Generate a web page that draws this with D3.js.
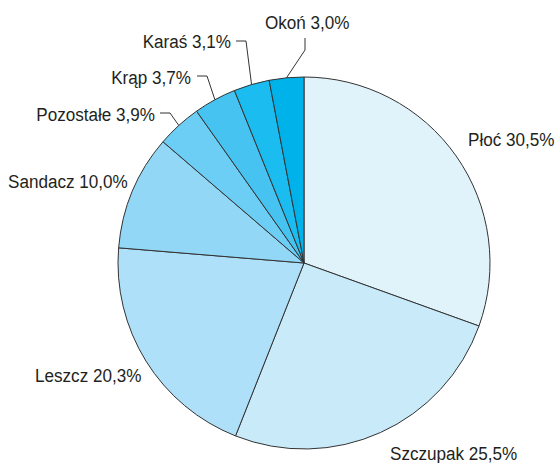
<!DOCTYPE html>
<html>
<head>
<meta charset="utf-8">
<script src="https://cdn.jsdelivr.net/npm/d3@7"></script>
<style>
body{margin:0;background:#fff;}
text{font-family:"Liberation Sans", Arial, sans-serif;font-size:19px;fill:#231f20;}
</style>
</head>
<body>
<div id="chart"></div>
<script>
var width=558, height=463;
var cx=304, cy=263, radius=186;

var names=["Płoć", "Szczupak", "Leszcz", "Sandacz", "Pozostałe", "Krąp", "Karaś", "Okoń"];
var shares=[30.5, 25.5, 20.3, 10.0, 3.9, 3.7, 3.1, 3.0];
var colors=["#e0f3fb", "#c8eaf9", "#aee0fa", "#92d8f6", "#6ccef5", "#46c3f0", "#1bbdf0", "#00b2ea"];

// where each label sits (text anchor point) and the leader elbow, if any
var labelLayout={
    "Płoć":      {x:468, y:146, anchor:"start"},
    "Szczupak":  {x:390, y:460, anchor:"start"},
    "Leszcz":    {x:35,  y:382, anchor:"start"},
    "Sandacz":   {x:8,   y:188, anchor:"start"},
    "Pozostałe": {x:155, y:121, anchor:"end", leader:[[170,113],[160,113]]},
    "Krąp":      {x:191, y:84,  anchor:"end", leader:[[207,76],[197,76]]},
    "Karaś":     {x:231, y:48,  anchor:"end", leader:[[246,41],[236,41]]},
    "Okoń":      {x:265, y:29,  anchor:"start", leader:[[305,50],[305,38]]}
};
var squeeze=0.9; // condensed look of the original typeface

var svg=d3.select('#chart').append('svg')
        .attr('width', width)
        .attr('height', height);

var g=svg.append('g')
        .attr('transform', 'translate('+cx+','+cy+')');

var pie=d3.pie().sort(null).value(function(d){ return d; });
var arcs=pie(shares);

var arc=d3.arc().innerRadius(0).outerRadius(radius);
var color=d3.scaleOrdinal().domain(names).range(colors);

g.selectAll('path.slice')
    .data(arcs)
    .enter().append('path')
    .attr('class', 'slice')
    .attr('d', arc)
    .style('fill', function(d,i){ return color(names[i]); })
    .style('stroke', '#333')
    .style('stroke-width', 1)
    .style('stroke-linejoin', 'round');

var fmt=function(v){ return v.toFixed(1).replace('.', ','); };
var line=d3.line();

arcs.forEach(function(d,i){
    var L=labelLayout[names[i]];
    if(L.leader){
        var a=(d.startAngle+d.endAngle)/2;
        var start=[cx+radius*Math.sin(a), cy-radius*Math.cos(a)];
        svg.append('path')
            .attr('d', line([start].concat(L.leader)))
            .style('fill', 'none')
            .style('stroke', '#333')
            .style('stroke-width', 1);
    }
    svg.append('text')
        .attr('transform', 'translate('+L.x+','+L.y+') scale('+squeeze+',1)')
        .attr('text-anchor', L.anchor)
        .text(names[i]+' '+fmt(shares[i])+'%');
});
</script>
</body>
</html>
